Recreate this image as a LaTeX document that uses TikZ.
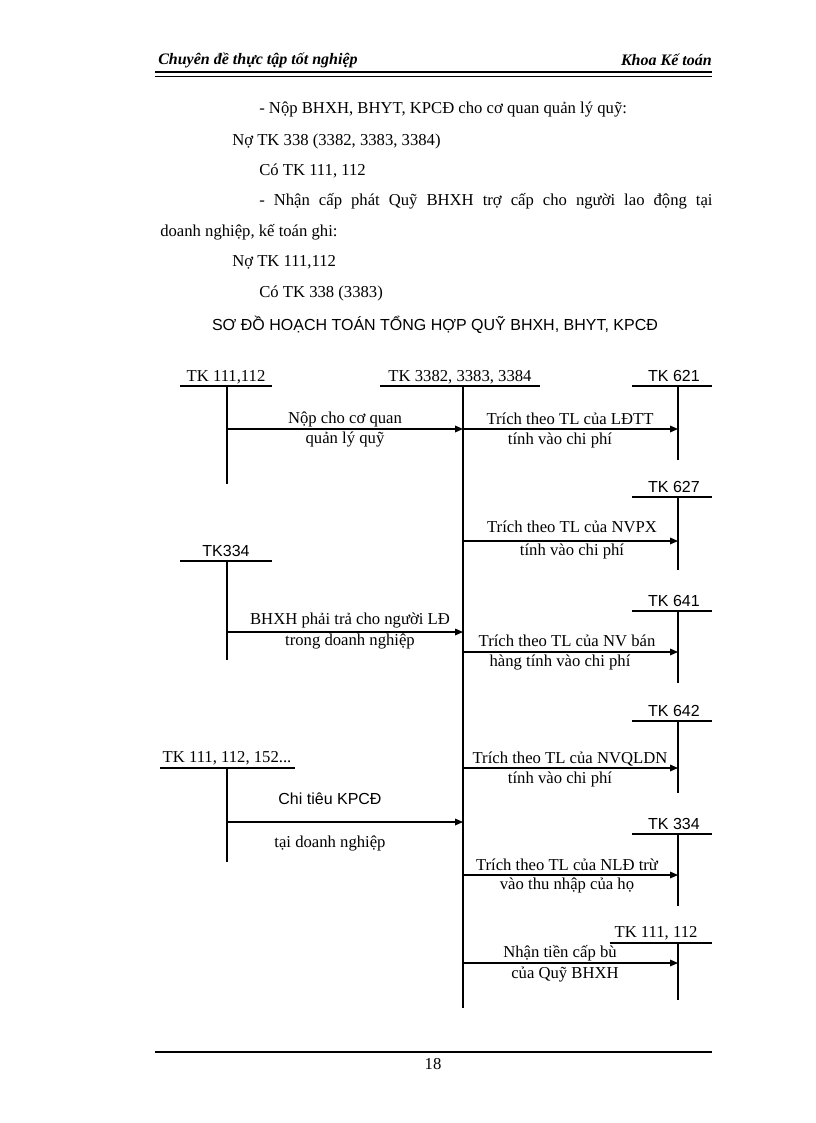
\documentclass[tikz,border=0pt]{standalone}
\usepackage{fontspec}
\setmainfont{Liberation Serif}
\newfontfamily\arialf{Liberation Sans}
\usetikzlibrary{arrows.meta}
\tikzset{
 t/.style={font=\fontsize{12.5}{14}\selectfont, inner sep=0pt},
 ts/.style={font=\arialf\fontsize{12}{14}\selectfont, inner sep=0pt},
 acc/.style={line width=0.9pt},
 arr/.style={line width=0.9pt,-{Triangle[length=6pt,width=5pt]}},
}
\begin{document}
\begin{tikzpicture}[x=0.75pt,y=-0.75pt]
\useasboundingbox (0,0) rectangle (816,1123);
% header
\node[t,anchor=west,font=\bfseries\itshape\fontsize{12}{14}\selectfont] (h1) at (158,60) {Chuyên đề thực tập tốt nghiệp};
\node[t,anchor=east,font=\bfseries\itshape\fontsize{12}{14}\selectfont] (h2) at (712,60) {Khoa Kế toán};
\draw[line width=1.6pt] (155,72) -- (712,72);
\draw[line width=0.5pt] (155,76) -- (712,76);
% footer
\draw[line width=1.6pt] (155,1052) -- (712,1052);
\node[t] (pg) at (433,1064) {18};
% text
\node[t,anchor=west] (l1) at (259,110) {- Nộp BHXH, BHYT, KPCĐ cho cơ quan quản lý quỹ:};
\node[t,anchor=west] (l2) at (232,141) {Nợ TK 338 (3382, 3383, 3384)};
\node[t,anchor=west] (l3) at (259,171) {Có TK 111, 112};
\node[t,anchor=west,text width=453\pgflinewidth,align=justify] (l4) at (259,201) {\makebox[340pt][s]{- Nhận cấp phát Quỹ BHXH trợ cấp cho người lao động tại}};
\node[t,anchor=west] (l5) at (160,232) {doanh nghiệp, kế toán ghi:};
\node[t,anchor=west] (l6) at (232,262) {Nợ TK 111,112};
\node[t,anchor=west] (l7) at (259,293) {Có TK 338 (3383)};
\node[ts] (title) at (435,325) {SƠ ĐỒ HOẠCH TOÁN TỔNG HỢP QUỸ BHXH, BHYT, KPCĐ};
% center account
\node[t] (c) at (460,377) {TK 3382, 3383, 3384};
\draw[acc] (380,386) -- (540,386);
\coordinate (cv) at (463,386);
\draw[line width=1.6pt] (cv) -- (463,1008);
% left accounts
\node[t] (a1) at (226,377) {TK 111,112};
\draw[acc] (180,386) -- (272,386); \draw[acc] (227,386) -- (227,484);
\node[ts] (a2) at (226,551) {TK334};
\draw[acc] (180,561) -- (272,561); \draw[acc] (227,561) -- (227,660);
\node[t] (a3) at (227,758) {TK 111, 112, 152...};
\draw[acc] (160,768) -- (295,768); \draw[acc] (227,768) -- (227,862);
% right accounts
\foreach \y/\n/\e/\s in {386/TK 621/460/1, 497/TK 627/570/1, 611/TK 641/683/1, 721/TK 642/793/1, 834/TK 334/906/1}{
 \node[ts] at (674,\y-10) {\n};
 \draw[acc] (632,\y) -- (712,\y); \draw[acc] (678,\y) -- (678,\e);
}
\node[t] (r6) at (656,933) {TK 111, 112};
\draw[acc] (610,943) -- (712,943); \draw[acc] (678,943) -- (678,1000);
% coordinates for arrows
\coordinate (L1) at (227,429); \coordinate (C1) at (463,429); \coordinate (R1) at (678,429);
\coordinate (C2) at (463,541); \coordinate (R2) at (678,541);
\coordinate (L3) at (227,632); \coordinate (C3) at (463,632);
\coordinate (C4) at (463,652); \coordinate (R4) at (678,652);
\coordinate (C5) at (463,768); \coordinate (R5) at (678,768);
\coordinate (L6) at (227,822); \coordinate (C6) at (463,822);
\coordinate (C7) at (463,875); \coordinate (R7) at (678,875);
\coordinate (C8) at (463,963); \coordinate (R8) at (678,963);
\draw[arr] (L1) -- (C1); \draw[arr] (C1) -- (R1); \draw[arr] (C2) -- (R2);
\draw[arr] (L3) -- (C3); \draw[arr] (C4) -- (R4); \draw[arr] (C5) -- (R5);
\draw[arr] (L6) -- (C6); \draw[arr] (C7) -- (R7); \draw[arr] (C8) -- (R8);
% labels
\node[t] at (345,419) {Nộp cho cơ quan};
\node[t] at (345,440) {quản lý quỹ};
\node[t] at (570,419) {Trích theo TL của LĐTT};
\node[t] at (560,440) {tính vào chi phí};
\node[t] at (572,527) {Trích theo TL của NVPX};
\node[t] at (572,551) {tính vào chi phí};
\node[t] at (350,620) {BHXH phải trả cho người LĐ};
\node[t] at (350,641) {trong doanh nghiệp};
\node[t] at (567,641) {Trích theo TL của NV bán};
\node[t] at (560,662) {hàng tính vào chi phí};
\node[t] at (570,759) {Trích theo TL của NVQLDN};
\node[t] at (560,779) {tính vào chi phí};
\node[ts] at (330,799) {Chi tiêu KPCĐ};
\node[t] at (330,843) {tại doanh nghiệp};
\node[t] at (567,865) {Trích theo TL của NLĐ trừ};
\node[t] at (567,885) {vào thu nhập của họ};
\node[t] at (560,953) {Nhận tiền cấp bù};
\node[t] at (565,975) {của Quỹ BHXH};
\end{tikzpicture}
\end{document}
